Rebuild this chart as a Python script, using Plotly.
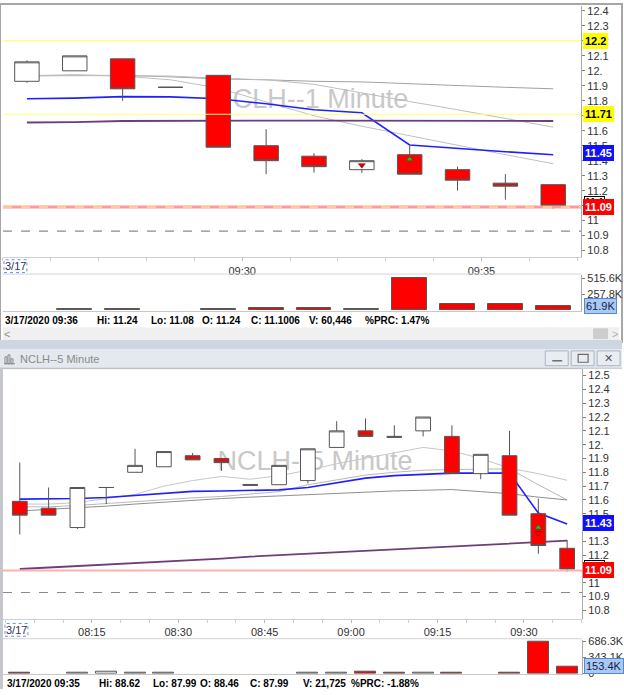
import plotly.graph_objects as go
import pandas as pd

W, H = 624, 695
DAY = "2020-03-17"

# ---------------- 1-minute chart (top window) ----------------
m1_times = ["09:25", "09:26", "09:27", "09:28", "09:29", "09:30",
            "09:31", "09:32", "09:33", "09:34", "09:35", "09:36"]
m1_open = [11.93, 12.00, 12.08, 11.89, 11.97, 11.50, 11.43, 11.34, 11.44, 11.34, 11.25, 11.24]
m1_high = [12.07, 12.10, 12.08, 11.89, 11.97, 11.61, 11.45, 11.41, 11.50, 11.36, 11.31, 11.24]
m1_low = [11.92, 12.00, 11.80, 11.89, 11.49, 11.31, 11.32, 11.32, 11.31, 11.20, 11.14, 11.08]
m1_close = [12.06, 12.10, 11.88, 11.89, 11.49, 11.40, 11.36, 11.40, 11.31, 11.27, 11.23, 11.10]
m1_volume = [0, 10000, 10000, 0, 12000, 35000, 25000, 15000, 515600, 100000, 90000, 61900]
m1_ma_blue = [11.814, 11.818, 11.828, 11.826, 11.814, 11.78, 11.74, 11.72, 11.505, 11.48, 11.46, 11.44]
m1_ma_purple = [11.655, 11.657, 11.665, 11.667, 11.668, 11.668, 11.668, 11.668, 11.668, 11.667, 11.667, 11.665]
m1_ma_gray_a = [11.966, 11.97, 11.97, 11.96, 11.946, 11.94, 11.93, 11.926, 11.913, 11.90, 11.89, 11.88]
m1_ma_gray_b = [11.97, 11.97, 11.97, 11.965, 11.95, 11.94, 11.91, 11.85, 11.795, 11.74, 11.68, 11.624]
m1_ma_gray_c = [11.966, 11.975, 11.965, 11.94, 11.885, 11.79, 11.70, 11.63, 11.565, 11.50, 11.44, 11.38]
m1_signal_down = [None, None, None, None, None, None, None, 11.37, None, None, None, None]
m1_signal_up = [None, None, None, None, None, None, None, None, 11.41, None, None, None]
m1_levels_yellow = [12.2, 11.71]
m1_level_last = 11.09
m1_level_dash = 10.93
m1_price_ticks = [10.8, 10.9, 11.0, 11.1, 11.2, 11.3, 11.4, 11.5, 11.6, 11.7,
                  11.8, 11.9, 12.0, 12.1, 12.2, 12.3, 12.4]
m1_price_labels = ["10.8", "10.9", "11", "11.1", "11.2", "11.3", "11.4", "11.5", "11.6",
                   "11.7", "11.8", "11.9", "12.", "12.1", "12.2", "12.3", "12.4"]
m1_time_ticks = ["09:30", "09:35"]
m1_vol_ticks = [257800, 515600]
m1_vol_labels = ["257.8K", "515.6K"]
m1_tag_values = [12.2, 11.71, 11.45, 11.09]
m1_tag_texts = ["12.2", "11.71", "11.45", "11.09"]
m1_tag_kinds = ["yellow", "yellow", "blue", "red"]
m1_vol_tag_value = 61900
m1_vol_tag_text = "61.9K"
m1_info = ["3/17/2020 09:36", "Hi: 11.24", "Lo: 11.08", "O: 11.24",
           "C: 11.1006", "V: 60,446", "%PRC: 1.47%"]
m1_title = "NCLH--1 Minute"

# ---------------- 5-minute chart (bottom window) ----------------
m5_times = ["08:00", "08:05", "08:10", "08:15", "08:20", "08:25", "08:30", "08:35", "08:40", "08:45",
            "08:50", "08:55", "09:00", "09:05", "09:10", "09:15", "09:20", "09:25", "09:30", "09:35"]
m5_open = [11.59, 11.54, 11.40, 11.69, 11.80, 11.84, 11.92, 11.90, 11.712, 11.71,
           11.74, 11.98, 12.10, 12.06, 12.10, 12.06, 11.79, 11.92, 11.50, 11.25]
m5_high = [11.87, 11.69, 11.69, 11.69, 11.97, 11.95, 11.94, 11.90, 11.712, 11.85,
           11.97, 12.17, 12.19, 12.14, 12.20, 12.14, 11.93, 12.10, 11.61, 11.31]
m5_low = [11.35, 11.49, 11.39, 11.57, 11.80, 11.84, 11.89, 11.81, 11.706, 11.71,
          11.72, 11.98, 12.06, 12.054, 12.06, 11.79, 11.75, 11.49, 11.21, 11.08]
m5_close = [11.49, 11.49, 11.69, 11.69, 11.85, 11.95, 11.89, 11.87, 11.706, 11.85,
            11.97, 12.10, 12.06, 12.054, 12.20, 11.79, 11.93, 11.49, 11.27, 11.10]
m5_volume = [25000, 0, 15000, 30000, 15000, 15000, 0, 0, 0, 0,
             15000, 15000, 30000, 15000, 15000, 15000, 0, 25000, 686300, 153400]
m5_ma_blue = [11.606, 11.606, 11.61, 11.618, 11.633, 11.649, 11.662, 11.665, 11.669, 11.673,
              11.69, 11.726, 11.758, 11.776, 11.787, 11.794, 11.794, 11.794, 11.505, 11.425]
m5_ma_purple = [11.10, 11.11, 11.12, 11.13, 11.145, 11.155, 11.165, 11.175, 11.19, 11.20,
                11.21, 11.22, 11.23, 11.245, 11.255, 11.265, 11.275, 11.285, 11.295, 11.305]
m5_ma_gray_a = [11.57, 11.57, 11.58, 11.61, 11.64, 11.70, 11.74, 11.77, 11.75, 11.775,
                11.815, 11.862, 11.90, 11.937, 11.98, 11.955, 11.90, 11.83, 11.79, 11.742]
m5_ma_gray_b = [11.55, 11.55, 11.56, 11.575, 11.59, 11.60, 11.615, 11.625, 11.64, 11.66,
                11.71, 11.745, 11.78, 11.80, 11.815, 11.82, 11.825, 11.825, 11.71, 11.60]
m5_ma_gray_c = [11.52, 11.53, 11.54, 11.555, 11.57, 11.585, 11.60, 11.61, 11.62, 11.63,
                11.64, 11.65, 11.66, 11.665, 11.67, 11.675, 11.66, 11.645, 11.62, 11.60]
m5_signal_up = [None] * 18 + [11.40, None]
m5_signal_down = [None] * 18 + [11.36, None]
m5_level_last = 11.09
m5_level_dash = 10.93
m5_price_ticks = [10.8, 10.9, 11.0, 11.1, 11.2, 11.3, 11.4, 11.5, 11.6, 11.7,
                  11.8, 11.9, 12.0, 12.1, 12.2, 12.3, 12.4, 12.5]
m5_price_labels = ["10.8", "10.9", "11", "11.1", "11.2", "11.3", "11.4", "11.5", "11.6",
                   "11.7", "11.8", "11.9", "12.", "12.1", "12.2", "12.3", "12.4", "12.5"]
m5_time_ticks = ["08:15", "08:30", "08:45", "09:00", "09:15", "09:30"]
m5_vol_ticks = [0, 343100, 686300]
m5_vol_labels = ["0", "343.1K", "686.3K"]
m5_tag_values = [11.43, 11.09]
m5_tag_texts = ["11.43", "11.09"]
m5_tag_kinds = ["blue", "red"]
m5_vol_tag_value = 153400
m5_vol_tag_text = "153.4K"
m5_info = ["3/17/2020 09:35", "Hi: 88.62", "Lo: 87.99", "O: 88.46",
           "C: 87.99", "V: 21,725", "%PRC: -1.88%"]
m5_title = "NCLH--5 Minute"
date_label = "3/17"


# ---------------- helpers ----------------
def px(x):
    return x / W


def py(y):
    return 1 - y / H


def ts(hm, sec=0):
    return (pd.Timestamp(f"{DAY} {hm}") + pd.Timedelta(seconds=sec)).strftime("%Y-%m-%d %H:%M:%S")


m1_x = [ts(t, 30) for t in m1_times]
m5_x = [ts(t, 150) for t in m5_times]

RED = "#ff0000"
EDGE = "#555555"
TAGS = {"yellow": ("#ffff00", "#000000", "#ffff00"),
        "blue": ("#1010ff", "#ffffff", "#1010ff"),
        "red": ("#ff0000", "#ffffff", "#ff0000")}

fig = go.Figure()

# moving averages (base layer, behind the candles)
ma_style = [("#a0a0a0", 1), ("#bdbdbd", 1), ("#c0c0c0", 1), ("#2020ff", 1.6), ("#6e3d7a", 1.8)]
for vals, (col, wd) in zip([m1_ma_gray_a, m1_ma_gray_b, m1_ma_gray_c, m1_ma_blue, m1_ma_purple], ma_style):
    fig.add_trace(go.Scatter(x=m1_x, y=vals, xaxis="x", yaxis="y", mode="lines",
                             line=dict(color=col, width=wd), hoverinfo="skip", showlegend=False))
ma5_style = [("#c6c6c6", 1), ("#b8b8b8", 1), ("#8e8e8e", 1), ("#2020ff", 1.6), ("#6e3d7a", 1.8)]
for vals, (col, wd) in zip([m5_ma_gray_a, m5_ma_gray_b, m5_ma_gray_c, m5_ma_blue, m5_ma_purple], ma5_style):
    fig.add_trace(go.Scatter(x=m5_x, y=vals, xaxis="x3", yaxis="y3", mode="lines",
                             line=dict(color=col, width=wd), hoverinfo="skip", showlegend=False))


def candles(x, o, h, l, c, xa, ya):
    return go.Candlestick(x=x, open=o, high=h, low=l, close=c, xaxis=xa, yaxis=ya,
                          increasing=dict(line=dict(color=EDGE, width=1), fillcolor="#ffffff"),
                          decreasing=dict(line=dict(color=EDGE, width=1), fillcolor=RED),
                          whiskerwidth=0, showlegend=False, hoverinfo="skip")


fig.add_trace(candles(m1_x, m1_open, m1_high, m1_low, m1_close, "x", "y5"))
fig.add_trace(candles(m5_x, m5_open, m5_high, m5_low, m5_close, "x3", "y6"))

# signal markers
fig.add_trace(go.Scatter(x=m1_x, y=m1_signal_down, xaxis="x", yaxis="y5", mode="markers",
                         marker=dict(symbol="triangle-down", size=6, color="#e00000",
                                     line=dict(color="#600000", width=0.5)), showlegend=False))
fig.add_trace(go.Scatter(x=m1_x, y=m1_signal_up, xaxis="x", yaxis="y5", mode="markers",
                         marker=dict(symbol="triangle-up", size=6, color="#20c020",
                                     line=dict(color="#205020", width=0.5)), showlegend=False))
fig.add_trace(go.Scatter(x=m5_x, y=m5_signal_up, xaxis="x3", yaxis="y6", mode="markers",
                         marker=dict(symbol="triangle-up", size=6, color="#20c020",
                                     line=dict(color="#205020", width=0.5)), showlegend=False))
fig.add_trace(go.Scatter(x=m5_x, y=m5_signal_down, xaxis="x3", yaxis="y6", mode="markers",
                         marker=dict(symbol="triangle-down-open", size=6, color="#a00000",
                                     line=dict(width=1)), showlegend=False))


# volume
def vol_colors(o, c):
    return [RED if cc < oo else "#ffffff" for oo, cc in zip(o, c)]


fig.add_trace(go.Bar(x=m1_x, y=m1_volume, xaxis="x2", yaxis="y2", width=43800,
                     marker=dict(color=vol_colors(m1_open, m1_close),
                                 line=dict(color=EDGE, width=[0 if v == 0 else 1 for v in m1_volume])),
                     showlegend=False, hoverinfo="skip"))
fig.add_trace(go.Bar(x=m5_x, y=m5_volume, xaxis="x4", yaxis="y4", width=219000,
                     marker=dict(color=vol_colors(m5_open, m5_close),
                                 line=dict(color=EDGE, width=[0 if v == 0 else 1 for v in m5_volume])),
                     showlegend=False, hoverinfo="skip"))

AX_FONT = dict(family="Arial", size=11, color="#333333")

m1_minor = [ts(f"09:{m:02d}") for m in range(25, 38)]
m5_minor = [(pd.Timestamp(f"{DAY} 08:00") + pd.Timedelta(minutes=5 * k)).strftime("%Y-%m-%d %H:%M:%S")
            for k in range(0, 21)]

common_x = dict(type="date", showgrid=False, zeroline=False, rangeslider=dict(visible=False),
                showline=True, linecolor="#d0d0d0", linewidth=1, ticks="outside", ticklen=3,
                tickcolor="#b8b8b8", tickfont=AX_FONT)
fig.update_layout(
    width=W, height=H, autosize=False, margin=dict(l=0, r=0, t=0, b=0),
    paper_bgcolor="#ffffff", plot_bgcolor="#ffffff", boxgap=0.27, bargap=0,
    showlegend=False,
    xaxis=dict(domain=[px(3), px(583)], anchor="y",
               range=[ts("09:25"), ts("09:37", 5)],
               tickmode="array", tickvals=[ts(t) for t in m1_time_ticks], ticktext=m1_time_ticks,
               minor=dict(tickmode="array", tickvals=m1_minor, ticks="outside", ticklen=3,
                          tickcolor="#cfcfcf"),
               **common_x),
    yaxis=dict(domain=[py(257), py(2)], anchor="x", side="right", range=[10.755, 12.433],
               tickmode="array", tickvals=m1_price_ticks, ticktext=m1_price_labels,
               ticks="outside", ticklen=3, tickcolor="#808080", showline=True,
               linecolor="#a8a8a8", showgrid=False, zeroline=False, tickfont=AX_FONT),
    yaxis5=dict(overlaying="y", anchor="x", range=[10.755, 12.433], visible=False),
    xaxis2=dict(domain=[px(3), px(583)], anchor="y2", matches="x", showticklabels=False,
                type="date", showgrid=False, zeroline=False, showline=True,
                linecolor="#c8c8c8", ticks=""),
    yaxis2=dict(domain=[py(311), py(275)], anchor="x2", side="right", range=[-8006, 568400],
                tickmode="array", tickvals=m1_vol_ticks, ticktext=m1_vol_labels,
                ticks="outside", ticklen=3, tickcolor="#808080", showline=True,
                linecolor="#a8a8a8", showgrid=False, zeroline=False, tickfont=AX_FONT),
    xaxis3=dict(domain=[px(3), px(584)], anchor="y3",
                range=[ts("07:59", 35), ts("09:40", 6)],
                tickmode="array", tickvals=[ts(t) for t in m5_time_ticks], ticktext=m5_time_ticks,
                minor=dict(tickmode="array", tickvals=m5_minor, ticks="outside", ticklen=3,
                           tickcolor="#cfcfcf"),
                **common_x),
    yaxis3=dict(domain=[py(624), py(370)], anchor="x3", side="right", range=[10.738, 12.55],
                tickmode="array", tickvals=m5_price_ticks, ticktext=m5_price_labels,
                ticks="outside", ticklen=3, tickcolor="#808080", showline=True,
                linecolor="#a8a8a8", showgrid=False, zeroline=False, tickfont=AX_FONT),
    yaxis6=dict(overlaying="y3", anchor="x3", range=[10.738, 12.55], visible=False),
    xaxis4=dict(domain=[px(3), px(584)], anchor="y4", matches="x3", showticklabels=False,
                type="date", showgrid=False, zeroline=False, showline=True,
                linecolor="#c8c8c8", ticks=""),
    yaxis4=dict(domain=[py(679.5), py(645)], anchor="x4", side="right", range=[-4210, 722080],
                tickmode="array", tickvals=m5_vol_ticks, ticktext=m5_vol_labels,
                ticks="outside", ticklen=3, tickcolor="#808080", showline=True,
                linecolor="#a8a8a8", showgrid=False, zeroline=False, tickfont=AX_FONT),
)

shapes = []
annos = []


def prect(x0, y0, x1, y1, fill=None, line=None, lw=1, dash=None, layer="above"):
    d = dict(type="rect", xref="paper", yref="paper", x0=px(x0), x1=px(x1), y0=py(y1), y1=py(y0),
             layer=layer, line=dict(width=lw if line else 0, color=line or "rgba(0,0,0,0)"))
    if dash:
        d["line"]["dash"] = dash
    if fill:
        d["fillcolor"] = fill
    shapes.append(d)


def pline(x0, y0, x1, y1, color, lw=1):
    shapes.append(dict(type="line", xref="paper", yref="paper", x0=px(x0), x1=px(x1),
                       y0=py(y0), y1=py(y1), line=dict(color=color, width=lw), layer="above"))


def hlevel(xa, ya, val, color, lw=1, dash=None):
    ln = dict(color=color, width=lw)
    if dash:
        ln["dash"] = dash
    shapes.append(dict(type="line", xref=f"{xa} domain", yref=ya, x0=0, x1=1, y0=val, y1=val,
                       line=ln, layer="above"))


def note(x, y, text, size=11, color="#333333", family="Arial", anchor="center", **kw):
    d = dict(xref="paper", yref="paper", x=px(x), y=py(y), text=text, showarrow=False,
             xanchor=anchor, yanchor="middle", font=dict(family=family, size=size, color=color))
    d.update(kw)
    annos.append(d)


# reference levels
for v in m1_levels_yellow:
    hlevel("x", "y5", v, "#ffff70", 1.2)
hlevel("x", "y5", m1_level_last, "#ff9a9a", 3)
hlevel("x", "y5", m1_level_last, "#ffc896", 2, "dash")
hlevel("x", "y5", m1_level_dash, "#8a8a8a", 1.2, "dash")
hlevel("x3", "y6", m5_level_last, "#ffb0b0", 2)
hlevel("x3", "y6", m5_level_dash, "#8a8a8a", 1.2, "dash")

# watermarks (behind everything in the price panels)
shapes.append(dict(type="rect", xref="x", yref="y", x0=ts("09:29", 26), x1=ts("09:33", 26),
                   y0=11.78, y1=11.89, layer="below", line=dict(width=0),
                   fillcolor="rgba(0,0,0,0)",
                   label=dict(text=m1_title, textposition="middle center",
                              font=dict(family="Arial", size=27, color="#c8c8c8"))))
shapes.append(dict(type="rect", xref="x3", yref="y3", x0=ts("08:43", 44), x1=ts("09:03", 44),
                   y0=11.84, y1=11.96, layer="below", line=dict(width=0),
                   fillcolor="rgba(0,0,0,0)",
                   label=dict(text=m5_title, textposition="middle center",
                              font=dict(family="Arial", size=27, color="#c8c8c8"))))

# panel separators
pline(3, 274, 583, 274, "#d4d4d4")
pline(3, 644, 584, 644, "#d4d4d4")
pline(3, 370, 584, 370, "#c8c8c8")

# window chrome
prect(0, 0, 624, 343, line="#a6a6a6", lw=2, layer="below")
prect(3, 328, 621, 341, fill="#f0f0f0")
prect(595, 329, 610, 340, fill="#cdcdcd")
prect(0, 341, 624, 350, fill="#cdd6e1")
prect(0, 350, 624, 369, fill="#e4e9ef")
pline(0, 369.5, 624, 369.5, "#b4bcc6")
prect(0, 369, 3, 695, fill="#c4c8cc")
for bx0 in (547, 573, 599):
    prect(bx0, 352, bx0 + 23, 367, fill="#e9edf2", line="#aab4c0")
pline(554, 362, 564, 362, "#6b6b6b", 1.5)
prect(580, 355.5, 590, 363.5, line="#6b6b6b", lw=1.2)
note(610.5, 359.5, "✕", family="DejaVu Sans", color="#555555")
# small chart icon in the title bar
pline(4, 365, 15, 365, "#8a8a8a")
for ix, itop in ((6, 358), (9, 356), (12, 360)):
    prect(ix - 1, itop, ix + 1, 365, line="#8a8a8a", lw=1)
note(18, 360, m5_title, color="#8a8a8a", anchor="left")
note(7, 334.5, "<", color="#909090")
note(617, 334.5, ">", color="#b0b0b0")

# date boxes
for (bx, by) in ((4, 266), (5, 635)):
    prect(bx, by - 6.5, bx + 23, by + 6.5, line="#6f8fe0", lw=1, dash="dot")
    note(bx + 11.5, by, date_label, color="#30305a")


# price tags
def tag(ya, val, text, kind):
    bg, fg, bd = TAGS[kind]
    annos.append(dict(xref="paper", yref=ya, x=px(585), y=val, xanchor="left", yanchor="middle",
                      text=f"<b>{text}</b>", showarrow=False, bgcolor=bg, bordercolor=bd,
                      borderpad=1, font=dict(family="Arial", size=11, color=fg)))


annos.append(dict(xref="paper", yref="y", x=px(586), y=m1_level_last + 0.03, xanchor="left",
                  yanchor="middle", text="<b>11.1</b>", showarrow=False, bgcolor="#ffffff",
                  bordercolor="#000000", borderpad=0, font=dict(family="Arial", size=10, color="#000")))
for v, t, k in zip(m1_tag_values, m1_tag_texts, m1_tag_kinds):
    tag("y", v, t, k)
annos.append(dict(xref="paper", yref="y3", x=px(586), y=m5_level_last + 0.03, xanchor="left",
                  yanchor="middle", text="<b>11.1</b>", showarrow=False, bgcolor="#ffffff",
                  bordercolor="#000000", borderpad=0, font=dict(family="Arial", size=10, color="#000")))
for v, t, k in zip(m5_tag_values, m5_tag_texts, m5_tag_kinds):
    tag("y3", v, t, k)
for ya, v, t in (("y2", m1_vol_tag_value, m1_vol_tag_text), ("y4", m5_vol_tag_value, m5_vol_tag_text)):
    annos.append(dict(xref="paper", yref=ya, x=px(586), y=v, xanchor="left", yanchor="middle",
                      text=t, showarrow=False, bgcolor="#a9c9f5", bordercolor="#5a86d0",
                      borderpad=1, font=dict(family="Arial", size=11, color="#14224a")))

# info lines
info_x1 = [3, 95, 149, 201, 250, 308, 364]
info_x5 = [5, 97, 151, 199, 249, 302, 350]
for txt, x in zip(m1_info, info_x1):
    note(x, 321, f"<b>{txt}</b>", size=10, color="#000000", anchor="left")
for txt, x in zip(m5_info, info_x5):
    note(x, 689, f"<b>{txt}</b>", size=10, color="#000000", anchor="left")

fig.update_layout(shapes=shapes, annotations=annos)
fig.write_html("out.html", config={"displayModeBar": False},
               post_script="document.body.style.margin='0';document.body.style.padding='0';"
                           "document.body.style.overflow='hidden';")
